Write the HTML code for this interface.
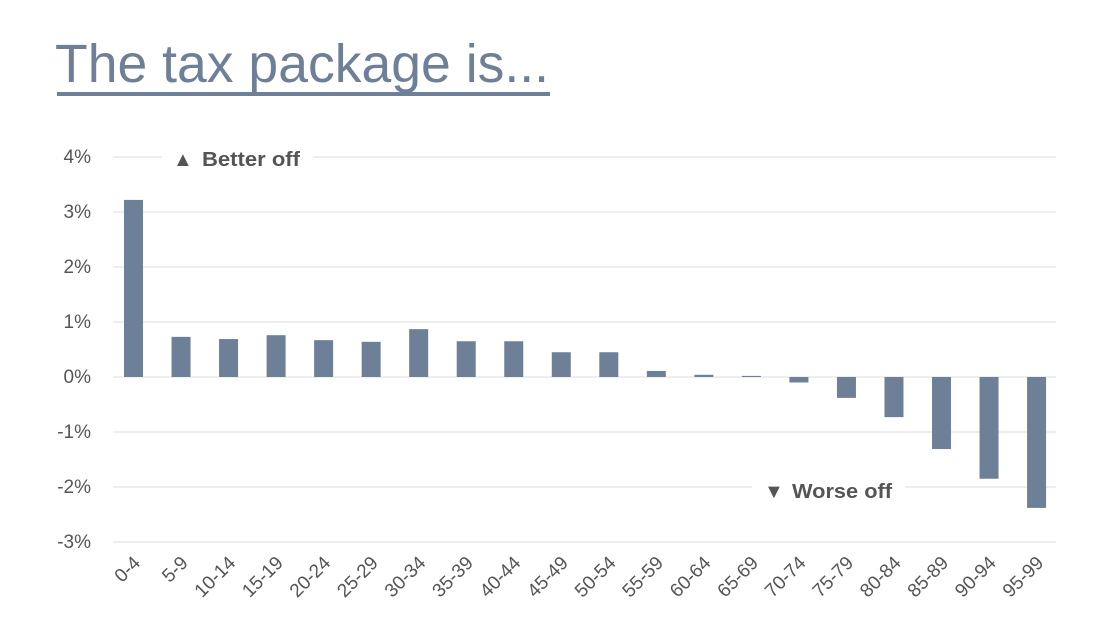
<!DOCTYPE html><html><head><style>body{margin:0;background:#fff}</style></head><body>
<svg width="1120" height="630" xmlns="http://www.w3.org/2000/svg" font-family="Liberation Sans, sans-serif">
<text x="55" y="82" font-size="54" fill="#6e7f98" textLength="494" lengthAdjust="spacingAndGlyphs">The tax package is...</text>
<rect x="57" y="92" width="493" height="4" fill="#6e7f98"/>
<g stroke="#dcdcdc" stroke-width="1">
<line x1="113" y1="157" x2="162" y2="157"/><line x1="313" y1="157" x2="1056" y2="157"/>
<line x1="113" y1="212" x2="1056" y2="212"/>
<line x1="113" y1="267" x2="1056" y2="267"/>
<line x1="113" y1="322" x2="1056" y2="322"/>
<line x1="113" y1="377" x2="1056" y2="377"/>
<line x1="113" y1="432" x2="1056" y2="432"/>
<line x1="113" y1="487" x2="752" y2="487"/><line x1="905" y1="487" x2="1056" y2="487"/>
<line x1="113" y1="542" x2="1056" y2="542"/>
</g>
<g font-size="19" fill="#555" text-anchor="end">
<text x="91" y="163">4%</text><text x="91" y="218">3%</text><text x="91" y="273">2%</text><text x="91" y="328">1%</text><text x="91" y="383">0%</text><text x="91" y="438">-1%</text><text x="91" y="493">-2%</text><text x="91" y="548">-3%</text>
</g>
<g font-size="20" font-weight="bold" fill="#555">
<text x="173" y="166">▲</text><text x="202" y="166" textLength="98" lengthAdjust="spacingAndGlyphs">Better off</text>
<text x="764" y="498">▼</text><text x="792" y="498" textLength="100" lengthAdjust="spacingAndGlyphs">Worse off</text>
</g>
<g fill="#6e7f98" id="bars"></g>
<g font-size="19" fill="#555" text-anchor="end" id="labs"></g>
<script>
var v=[3.22,0.73,0.69,0.76,0.67,0.64,0.87,0.65,0.65,0.45,0.45,0.11,0.04,0.02,-0.1,-0.38,-0.73,-1.31,-1.85,-2.38];
var b=document.getElementById('bars'),l=document.getElementById('labs'),ns='http://www.w3.org/2000/svg';
for(var i=0;i<20;i++){var cx=133.5+i*47.53,h=v[i]*55,r=document.createElementNS(ns,'rect');
r.setAttribute('x',cx-9.5);r.setAttribute('width',19);r.setAttribute('y',h>0?377-h:377);r.setAttribute('height',Math.abs(h));b.appendChild(r);
var t=document.createElementNS(ns,'text');var lx=cx+8,ly=564;t.setAttribute('x',lx);t.setAttribute('y',ly);t.setAttribute('transform','rotate(-45 '+lx+' '+ly+')');
t.textContent=(i*5)+'-'+(i*5+4);l.appendChild(t);}
</script>
</svg></body></html>
